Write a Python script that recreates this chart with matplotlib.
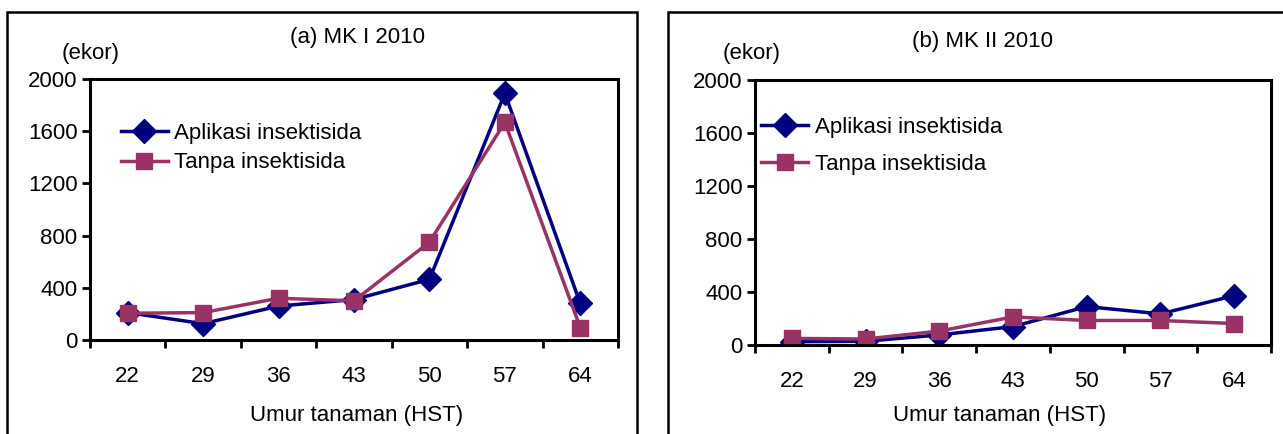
import matplotlib
matplotlib.use('Agg')
import matplotlib.pyplot as plt
from matplotlib.patches import Rectangle
import numpy as np

plt.rcParams['font.family'] = ['Liberation Sans', 'DejaVu Sans']

umur = ['22', '29', '36', '43', '50', '57', '64']
aplikasi_a = [210, 125, 260, 310, 465, 1890, 280]
tanpa_a = [205, 210, 320, 300, 750, 1668, 95]
aplikasi_b = [25, 28, 76, 139, 290, 235, 372]
tanpa_b = [50, 45, 105, 212, 185, 185, 162]
judul = ['(a) MK I 2010', '(b) MK II 2010']

W, H = 1283, 434
fig = plt.figure(figsize=(W / 100, H / 100), dpi=100)

def px(x0, y0, x1, y1):
    return [x0 / W, 1 - y1 / H, (x1 - x0) / W, (y1 - y0) / H]

# outer boxes of the two panels
fig.patches.append(Rectangle((7 / W, -0.1), 630 / W, 1.1 - 12 / H, transform=fig.transFigure,
                             fill=False, lw=1.8, ec='black'))
fig.patches.append(Rectangle((668 / W, -0.1), 0.5, 1.1 - 12 / H, transform=fig.transFigure,
                             fill=False, lw=1.8, ec='black'))

panels = [
    dict(box=(90, 79, 618, 340), apl=aplikasi_a, tan=tanpa_a, title=judul[0],
         tx=357, ty=38, ex=91, xl=357, leg=(0.059, 0.833), lsp=0.4),
    dict(box=(755, 80, 1271, 345), apl=aplikasi_b, tan=tanpa_b, title=judul[1],
         tx=982, ty=42, ex=752, xl=1000, leg=(0.012, 0.86), lsp=0.7),
]

x = np.arange(len(umur))
for p in panels:
    ax = fig.add_axes(px(*p['box']))
    ax.plot(x, p['apl'], color='#000080', lw=2.5, marker='D', ms=12, label='Aplikasi insektisida')
    ax.plot(x, p['tan'], color='#993366', lw=2.5, marker='s', ms=12, label='Tanpa insektisida')
    ax.set_xlim(-0.5, len(umur) - 0.5)
    ax.set_ylim(0, 2000)
    ax.set_yticks([0, 400, 800, 1200, 1600, 2000])
    ax.set_xticks(x)
    ax.set_xticklabels(umur)
    ax.set_xticks(np.arange(-0.5, len(umur)), minor=True)
    ax.tick_params(axis='x', which='major', length=0, pad=19, labelsize=16)
    ax.tick_params(axis='x', which='minor', length=6, width=2, direction='out')
    ax.tick_params(axis='y', length=6, width=2, pad=3, labelsize=16)
    for s in ax.spines.values():
        s.set_linewidth(2.2)
    ax.legend(loc='upper left', bbox_to_anchor=p['leg'], frameon=False, fontsize=16,
              borderaxespad=0, borderpad=0, handlelength=2.1, handletextpad=0.3,
              labelspacing=p['lsp'])
    fig.text(p['tx'] / W, 1 - p['ty'] / H, p['title'], ha='center', va='center', fontsize=16)
    fig.text(p['ex'] / W, 1 - 53 / H, '(ekor)', ha='center', va='center', fontsize=16)
    fig.text(p['xl'] / W, 1 - 415 / H, 'Umur tanaman (HST)', ha='center', va='center', fontsize=16)

fig.savefig('out.png', dpi=100)
